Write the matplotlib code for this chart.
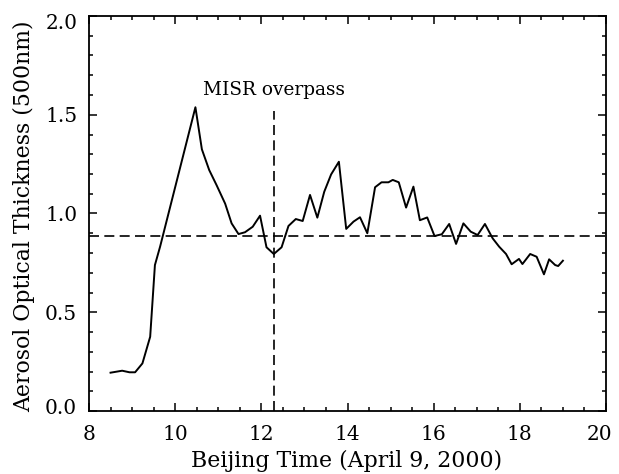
import matplotlib
matplotlib.use("Agg")
import matplotlib.pyplot as plt
from matplotlib.ticker import MultipleLocator, FormatStrFormatter
from matplotlib.transforms import ScaledTranslation

time_hr = [8.50, 8.77, 8.94, 9.07, 9.24, 9.42, 9.53, 9.65, 10.47, 10.62, 10.79, 10.96,
           11.16, 11.31, 11.47, 11.62, 11.80, 11.97, 12.12, 12.29, 12.47, 12.63, 12.80,
           12.96, 13.13, 13.30, 13.46, 13.62, 13.80, 13.97, 14.14, 14.29, 14.46, 14.64,
           14.79, 14.95, 15.05, 15.19, 15.36, 15.53, 15.68, 15.85, 16.02, 16.19, 16.36,
           16.52, 16.69, 16.86, 17.02, 17.19, 17.37, 17.52, 17.68, 17.81, 17.98, 18.06,
           18.24, 18.39, 18.56, 18.68, 18.82, 18.89, 19.00]
aot = [0.194, 0.204, 0.196, 0.196, 0.241, 0.376, 0.739, 0.832, 1.538, 1.325, 1.22, 1.144,
       1.05, 0.95, 0.896, 0.905, 0.933, 0.989, 0.829, 0.795, 0.829, 0.937, 0.972,
       0.962, 1.094, 0.979, 1.11, 1.198, 1.262, 0.922, 0.959, 0.981, 0.90, 1.133,
       1.158, 1.158, 1.17, 1.158, 1.03, 1.136, 0.966, 0.980, 0.886, 0.895, 0.947,
       0.846, 0.95, 0.908, 0.891, 0.947, 0.874, 0.832, 0.795, 0.743, 0.770, 0.744,
       0.795, 0.781, 0.692, 0.768, 0.739, 0.734, 0.761]

mean_aot = 0.886
overpass_time = 12.29
overpass_top = 1.52
label_text = "MISR overpass"
x_title = "Beijing Time (April 9, 2000)"
y_title = "Aerosol Optical Thickness (500nm)"

plt.rcParams['font.family'] = ['DejaVu Serif']
fig = plt.figure(figsize=(6.19, 4.74), dpi=100)
ax = fig.add_axes([89/619, 1-411/474, (606-89)/619, (411-16)/474])

dash = (0, (6, 3.2))
ax.plot(time_hr, aot, color='black', lw=1.4)
ax.axhline(mean_aot, color='black', lw=1.2, linestyle=dash)
ax.plot([overpass_time, overpass_time], [0, overpass_top], color='black', lw=1.2,
        linestyle=dash)
ax.text(overpass_time, 1.60, label_text, ha='center', va='baseline', fontsize=13.3)

ax.set_xlim(8, 20)
ax.set_ylim(0, 2.0)
ax.xaxis.set_major_locator(MultipleLocator(2))
ax.xaxis.set_minor_locator(MultipleLocator(0.5))
ax.yaxis.set_major_locator(MultipleLocator(0.5))
ax.yaxis.set_minor_locator(MultipleLocator(0.1))
ax.yaxis.set_major_formatter(FormatStrFormatter('%.1f'))
ax.tick_params(which='both', direction='in', top=True, right=True, width=1.1, labelsize=14.5)
ax.tick_params(which='major', length=5.8)
ax.tick_params(which='minor', length=2.9)
ax.tick_params(axis='x', which='major', pad=10)
ax.tick_params(axis='y', which='major', pad=8.5)
for s in ax.spines.values():
    s.set_linewidth(1.3)

fig.canvas.draw()
for lab in ax.get_yticklabels():
    if lab.get_text() == '2.0':
        lab.set_transform(lab.get_transform() + ScaledTranslation(0, -6/100, fig.dpi_scale_trans))
    elif lab.get_text() == '0.0':
        lab.set_transform(lab.get_transform() + ScaledTranslation(0, 4/100, fig.dpi_scale_trans))
for lab in ax.get_xticklabels():
    if lab.get_text() == '20':
        lab.set_transform(lab.get_transform() + ScaledTranslation(-6/100, 0, fig.dpi_scale_trans))

fig.text(347/619, 1-466.5/474, x_title, ha='center', va='baseline', fontsize=15.8)
fig.text(24/619, 1-216/474, y_title, ha='center', va='center', rotation=90, fontsize=15.8)

fig.savefig('out.png', dpi=100)
